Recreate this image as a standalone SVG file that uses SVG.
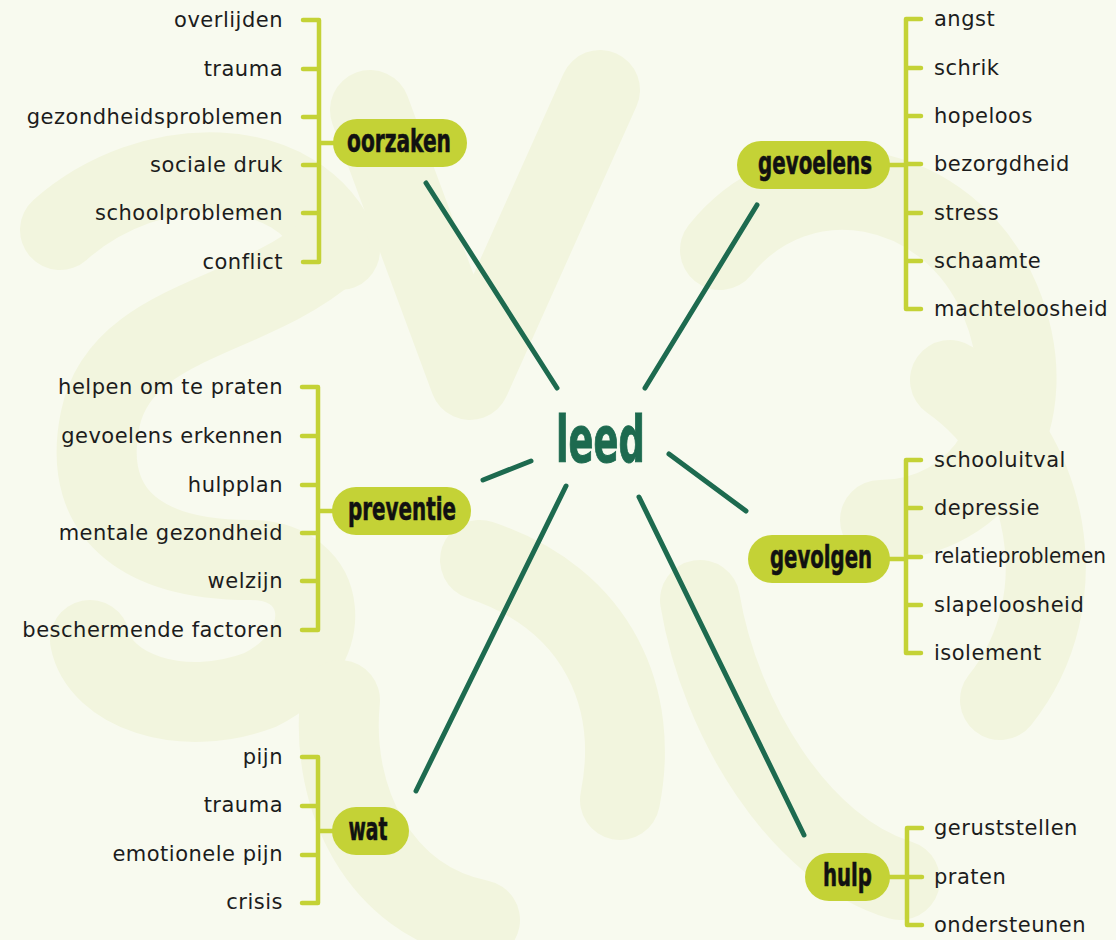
<svg xmlns="http://www.w3.org/2000/svg" width="1116" height="940" viewBox="0 0 1116 940">
<style>
.bg{fill:#f8faef}
.blob{fill:none;stroke:#f2f5de;stroke-width:80;stroke-linecap:round;stroke-linejoin:round}
.br{fill:none;stroke:#c4d236;stroke-width:4.5;stroke-linecap:round;stroke-linejoin:round}
.pill{fill:#c4d236}
.pt{font-family:"Liberation Sans Narrow","DejaVu Sans Condensed",sans-serif;font-weight:bold;font-size:32px;fill:#111;stroke:#111;stroke-width:0.6;text-anchor:middle}
.lb{font-family:"DejaVu Sans",sans-serif;font-size:21px;letter-spacing:0.5px;fill:#1c1c1c}
.l{text-anchor:end}
.conn line{stroke:#1d6a4f;stroke-width:5;stroke-linecap:round}
.center{font-family:"Liberation Sans Narrow","DejaVu Sans Condensed",sans-serif;font-weight:bold;font-size:64px;fill:#1d6a4f;stroke:#1d6a4f;stroke-width:1;text-anchor:middle}
</style>
<rect class="bg" x="0" y="0" width="1116" height="940"/>
<g id="background">
<path class="blob" d="M60,230 C150,150 300,150 340,250"/>
<path class="blob" d="M330,250 C250,320 120,320 100,420 C80,520 150,560 250,560"/>
<path class="blob" d="M250,560 C330,560 340,650 260,690 C180,720 100,690 90,640"/>
<path class="blob" d="M370,110 L470,380 L600,90"/>
<path class="blob" d="M720,250 C800,150 950,180 1000,300 C1050,420 980,520 880,520"/>
<path class="blob" d="M700,600 C720,720 800,850 900,880"/>
<path class="blob" d="M950,380 C1050,450 1080,600 1000,700"/>
<path class="blob" d="M340,700 C330,800 380,900 480,920"/>
<path class="blob" d="M480,560 C600,600 640,700 620,800"/>
</g>
<g id="connectors" class="conn">
<line x1="557" y1="388" x2="426" y2="183"/>
<line x1="645" y1="388" x2="757" y2="205"/>
<line x1="531" y1="461" x2="483" y2="480"/>
<line x1="669" y1="454" x2="746" y2="511"/>
<line x1="566" y1="486" x2="416" y2="791"/>
<line x1="639" y1="497" x2="804" y2="835"/>
</g>
<g id="leed">
<text class="center" x="600.5" y="462" textLength="89" lengthAdjust="spacingAndGlyphs">leed</text>
</g>
<g id="oorzaken">
<path class="br" d="M303,20 H319 V262 H303 M303,69 H319 M303,117 H319 M303,165 H319 M303,213 H319 M319,143 H334"/>
<rect class="pill" x="333" y="119" width="134" height="48" rx="24"/>
<text class="pt" x="399" y="152" textLength="104" lengthAdjust="spacingAndGlyphs">oorzaken</text>
<text class="lb l" x="283" y="27">overlijden</text>
<text class="lb l" x="283" y="76">trauma</text>
<text class="lb l" x="283" y="124">gezondheidsproblemen</text>
<text class="lb l" x="283" y="172">sociale druk</text>
<text class="lb l" x="283" y="220">schoolproblemen</text>
<text class="lb l" x="283" y="269">conflict</text>
</g>
<g id="gevoelens">
<path class="br" d="M921,19 H906 V309 H921 M906,68 H921 M906,116 H921 M906,164 H921 M906,213 H921 M906,261 H921 M889,165 H906"/>
<rect class="pill" x="737" y="141" width="153" height="48" rx="24"/>
<text class="pt" x="815" y="174" textLength="114" lengthAdjust="spacingAndGlyphs">gevoelens</text>
<text class="lb" x="934" y="26">angst</text>
<text class="lb" x="934" y="75">schrik</text>
<text class="lb" x="934" y="123">hopeloos</text>
<text class="lb" x="934" y="171">bezorgdheid</text>
<text class="lb" x="934" y="220">stress</text>
<text class="lb" x="934" y="268">schaamte</text>
<text class="lb" x="934" y="316">machteloosheid</text>
</g>
<g id="preventie">
<path class="br" d="M302,387 H318 V630 H302 M302,436 H318 M302,485 H318 M302,533 H318 M302,581 H318 M318,511 H333"/>
<rect class="pill" x="332" y="487" width="139" height="48" rx="24"/>
<text class="pt" x="402" y="520" textLength="108" lengthAdjust="spacingAndGlyphs">preventie</text>
<text class="lb l" x="283" y="394">helpen om te praten</text>
<text class="lb l" x="283" y="443">gevoelens erkennen</text>
<text class="lb l" x="283" y="492">hulpplan</text>
<text class="lb l" x="283" y="540">mentale gezondheid</text>
<text class="lb l" x="283" y="588">welzijn</text>
<text class="lb l" x="283" y="637">beschermende factoren</text>
</g>
<g id="gevolgen">
<path class="br" d="M921,460 H906 V653 H921 M906,508 H921 M906,557 H921 M906,605 H921 M889,559 H906"/>
<rect class="pill" x="748" y="535" width="142" height="48" rx="24"/>
<text class="pt" x="821" y="568" textLength="102" lengthAdjust="spacingAndGlyphs">gevolgen</text>
<text class="lb" x="934" y="467">schooluitval</text>
<text class="lb" x="934" y="515">depressie</text>
<text class="lb" x="934" y="563" style="letter-spacing:0" textLength="172" lengthAdjust="spacingAndGlyphs">relatieproblemen</text>
<text class="lb" x="934" y="612">slapeloosheid</text>
<text class="lb" x="934" y="660">isolement</text>
</g>
<g id="wat">
<path class="br" d="M302,757 H318 V903 H302 M302,806 H318 M302,855 H318 M318,831 H333"/>
<rect class="pill" x="332" y="807" width="77" height="48" rx="24"/>
<text class="pt" x="368" y="840" textLength="39" lengthAdjust="spacingAndGlyphs">wat</text>
<text class="lb l" x="283" y="764">pijn</text>
<text class="lb l" x="283" y="812">trauma</text>
<text class="lb l" x="283" y="861">emotionele pijn</text>
<text class="lb l" x="283" y="909">crisis</text>
</g>
<g id="hulp">
<path class="br" d="M922,828 H907 V925 H922 M907,877 H922 M889,877 H907"/>
<rect class="pill" x="805" y="853" width="85" height="48" rx="24"/>
<text class="pt" x="847.5" y="886" textLength="49" lengthAdjust="spacingAndGlyphs">hulp</text>
<text class="lb" x="934" y="835">geruststellen</text>
<text class="lb" x="934" y="884">praten</text>
<text class="lb" x="934" y="932">ondersteunen</text>
</g>
</svg>
